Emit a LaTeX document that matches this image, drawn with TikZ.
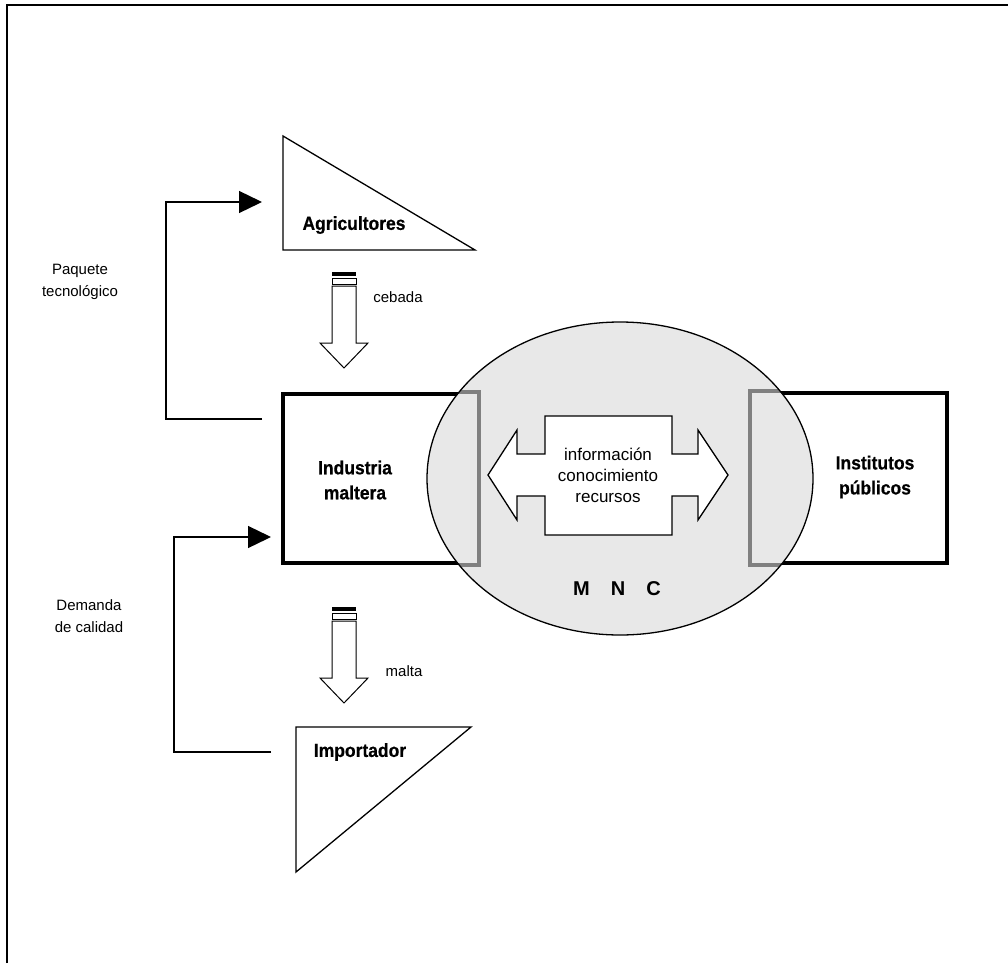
\documentclass[tikz,border=0pt]{standalone}
\usepackage{fontspec}
\setmainfont{Liberation Sans}
\newfontfamily\narrowbf[FakeStretch=0.92,FakeBold=0.6]{Liberation Sans}
\usetikzlibrary{arrows.meta}

\begin{document}
\begin{tikzpicture}[x=1pt,y=-1pt,
    heavybox/.style={draw,line width=4pt,inner sep=0pt},
    thinline/.style={line width=1.3pt},
    conn/.style={line width=1.3pt,-{Triangle[length=23pt,width=22pt]}},
    lbl/.style={align=center,font=\fontsize{15}{22}\selectfont},
    namebf/.style={align=center,font=\narrowbf\bfseries\fontsize{19}{25}\selectfont}]
  \useasboundingbox (0,0) rectangle (1008,963);
  % frame
  \draw[line width=1.5pt] (7,963) -- (7,5) -- (1008,5);

  % boxes
  \node[heavybox,minimum width=194pt,minimum height=169pt] (ind) at (380,478.5) {};
  \node[heavybox,minimum width=195pt,minimum height=170pt] (inst) at (849.5,478) {};

  % MNC ellipse
  \fill[black!9] (620,478.5) ellipse (193pt and 156.5pt);
  \begin{scope}
    \clip (620,478.5) ellipse (193pt and 156.5pt);
    \draw[line width=4pt,black!50] (ind.south west) rectangle (ind.north east);
    \draw[line width=4pt,black!50] (inst.south west) rectangle (inst.north east);
  \end{scope}
  \draw[line width=1.3pt] (620,478.5) ellipse (193pt and 156.5pt);

  % double arrow
  \draw[thinline,fill=white] (488,475) -- (517,430) -- (517,454) -- (545,454) -- (545,416)
    -- (672,416) -- (672,454) -- (698,454) -- (698,430) -- (728,475) -- (698,520)
    -- (698,496) -- (672,496) -- (672,535) -- (545,535) -- (545,496) -- (517,496)
    -- (517,520) -- cycle;
  \node[align=center,font=\fontsize{17}{21}\selectfont] (info) at (608,475)
    {información\\conocimiento\\recursos};
  \node[font=\bfseries\fontsize{20}{24}\selectfont] (mnc) at (617,589)
    {M\hspace{21pt}N\hspace{21pt}C};

  % triangles
  \draw[thinline] (283,136) -- (283,250) -- (475,250) -- cycle;
  \draw[thinline] (296,727) -- (471,727) -- (296,872) -- cycle;

  % block arrows
  \foreach \t in {272,607} {
    \fill (332,\t) rectangle (356,\t+4);
    \draw[line width=1pt] (332,\t+6) rectangle (356,\t+12);
    \draw[line width=1pt,fill=white] (332,\t+14) -- (332,\t+71) -- (320,\t+71) -- (344,\t+96)
      -- (368,\t+71) -- (356,\t+71) -- (356,\t+14) -- cycle;
  }

  % names
  \node[namebf] (agri) at (354,225) {Agricultores};
  \node[namebf] (imp) at (360,752) {Importador};
  \node[namebf] (indtxt) at (355,480) {Industria\\maltera};
  \node[namebf] (insttxt) at (875,477) {Institutos\\públicos};

  % flow labels
  \node[lbl] (ceb) at (398,297) {cebada};
  \node[lbl] (mal) at (404,671) {malta};
  \node[lbl] (paq) at (80,282) {Paquete\\tecnológico};
  \node[lbl] (dem) at (89,616) {Demanda\\de calidad};

  % feedback connectors
  \coordinate (paqS) at (262,419);
  \coordinate (paqT) at (262,202);
  \coordinate (demS) at (271,752);
  \coordinate (demT) at (271,537);
  \draw[conn] (paqS) -- ++(-96,0) |- (paqT);
  \draw[conn] (demS) -- ++(-97,0) |- (demT);
\end{tikzpicture}
\end{document}
